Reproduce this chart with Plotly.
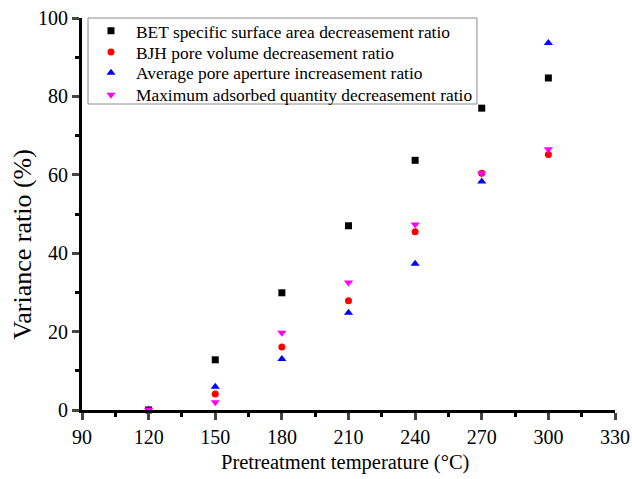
import plotly.graph_objects as go

temps = [120, 150, 180, 210, 240, 270, 300]
bet_surface = [0, 12.8, 29.9, 47.0, 63.7, 77.0, 84.7]
bjh_volume = [0, 4.1, 16.1, 27.9, 45.5, 60.4, 65.2]
pore_aperture = [0, 5.9, 13.0, 24.8, 37.3, 58.3, 93.6]
max_adsorbed = [0, 2.0, 19.7, 32.5, 47.3, 60.4, 66.5]

names = [
    "BET specific surface area decreasement ratio",
    "BJH pore volume decreasement ratio",
    "Average pore aperture increasement ratio",
    "Maximum adsorbed quantity decreasement ratio",
]
series = [bet_surface, bjh_volume, pore_aperture, max_adsorbed]
symbols = ["square", "circle", "triangle-up", "triangle-down"]
colors = ["#000000", "#ff0000", "#0000ff", "#ff00ff"]
sizes = [7, 7, 8, 8]

x_ticks = [90, 120, 150, 180, 210, 240, 270, 300, 330]
y_ticks = [0, 20, 40, 60, 80, 100]

# legend layout (one legend per row so row spacing can match the original)
legend_ids = ["legend", "legend2", "legend3", "legend4"]
legend_rows = [0.967, 0.913, 0.860, 0.804]

font = "Liberation Serif"
tf = dict(family=font, size=20, color="black")

fig = go.Figure()
for n, s, sym, c, sz, lid in zip(names, series, symbols, colors, sizes, legend_ids):
    fig.add_trace(go.Scatter(x=temps, y=s, mode="markers", name=n, cliponaxis=False,
                             legend=lid,
                             marker=dict(symbol=sym, color=c, size=sz, line=dict(width=0))))

legend_common = dict(x=0.0075, xanchor="left", yanchor="middle",
                     borderwidth=0, bgcolor="rgba(0,0,0,0)",
                     font=dict(size=17.4, family=font, color="black"), itemwidth=40)
layout_legends = {lid: dict(y=yy, **legend_common) for lid, yy in zip(legend_ids, legend_rows)}

fig.update_layout(
    width=632, height=479,
    margin=dict(l=82, r=17, t=18, b=69, autoexpand=False),
    paper_bgcolor="white", plot_bgcolor="white",
    font=dict(family=font, size=20, color="black"),
    showlegend=True,
    **layout_legends,
)
fig.add_shape(type="rect", xref="paper", yref="paper", x0=0.0113, x1=0.741, y0=0.7806, y1=1.0,
              line=dict(color="#8c8c8c", width=1), fillcolor="rgba(0,0,0,0)")

fig.add_annotation(text="Pretreatment temperature (\u00b0C)", xref="paper", yref="paper",
                   x=0.4925, y=-0.1327, xanchor="center", yanchor="middle", showarrow=False,
                   font=dict(family=font, size=20.5, color="black"))
fig.add_annotation(text="Variance ratio (%)", xref="paper", yref="paper", textangle=-90,
                   x=-0.111, y=0.424, xanchor="center", yanchor="middle", showarrow=False,
                   font=dict(family=font, size=26, color="black"))

fig.update_xaxes(range=[90, 330], tickvals=x_ticks, ticks="outside", ticklen=7, tickwidth=2.5,
                 showline=True, linewidth=3, linecolor="black", showgrid=False, zeroline=False,
                 tickfont=tf, automargin=False, ticklabeloverflow="allow",
                 minor=dict(dtick=15, ticks="outside", ticklen=4, tickwidth=2.5, tickcolor="black"))
fig.update_yaxes(range=[0, 100], tickvals=y_ticks, ticks="outside", ticklen=7, tickwidth=2.5,
                 showline=True, linewidth=3, linecolor="black", showgrid=False, zeroline=False,
                 tickfont=tf, automargin=False, ticklabeloverflow="allow",
                 minor=dict(dtick=10, ticks="outside", ticklen=4, tickwidth=2.5, tickcolor="black"))
fig.write_html("out.html", config={"displayModeBar": False},
               post_script="document.body.style.margin='0';document.body.style.overflow='hidden';")
